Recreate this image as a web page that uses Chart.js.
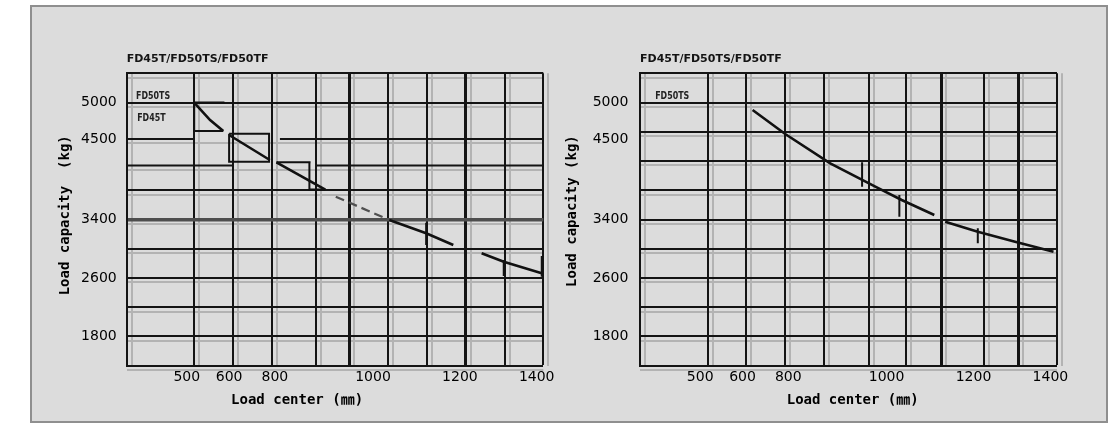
<!DOCTYPE html>
<html><head><meta charset="utf-8">
<script src="https://cdn.jsdelivr.net/npm/chart.js@4.4.1/dist/chart.umd.min.js"></script>
<style>
html,body{margin:0;padding:0;background:#fff;width:1117px;height:423px;overflow:hidden;}
#frame{position:absolute;left:30px;top:5px;width:1074px;height:414px;border:2px solid #8f8f8f;background:#dcdcdc;}
canvas{position:absolute;}
#cl{left:30px;top:10px;width:530px;height:410px;}
#cr{left:560px;top:10px;width:530px;height:410px;}
</style></head><body>
<div id="frame"></div>
<canvas id="cl" width="530" height="410"></canvas>
<canvas id="cr" width="530" height="410"></canvas>
<script>
// ---------- data ----------
const chartTitle = 'FD45T/FD50TS/FD50TF';
const xTickLabels = ['500', '600', '800', '1000', '1200', '1400'];
const xTickLabelAt = [481, 590, 708, 961, 1185, 1383];      // where each label sits (mm)
const yTickLabels = [1800, 2600, 3400, 4500, 5000];
const xMin = 326, xMax = 1400, yMin = 1400, yMax = 5400;

const leftGridX = [500, 600, 700, 814, 900, 1000, 1100, 1200, 1300, 1400];
const leftGridY = [1800, 2200, 2600, 3000, 3400, 3800, 5000, 5400];
// left chart: two horizontal rules that are broken where the boxes sit
const leftRuleX = [326, 502, null, 721, 1400, null, 326, 600, null, 816, 1400];
const leftRuleY = [4500, 4500, null, 4500, 4500, null, 4140, 4140, null, 4140, 4140];
const rightGridX = [500, 600, 700, 800, 915, 1011, 1102, 1213, 1300, 1400];
const rightGridY = [1800, 2200, 2600, 3000, 3400, 3800, 4200, 4600, 5000, 5400];

// left chart: capacity curve pieces (null = break)
const leftCurveX = [500, 541, 575, null, 590, 695, null, 712, 838, null, 1003, 1098, 1168, null, 1241, 1298, 1396];
const leftCurveY = [5000, 4760, 4611, null, 4556, 4214, null, 4182, 3810, null, 3393, 3211, 3051, null, 2938, 2823, 2664];
const leftDashX = [865, 1003];
const leftDashY = [3712, 3393];
const leftMarkX = [578, 500, 500, 575, null, 590, 693, 693, 590, 590, null, 712, 800, null, 797, 797, 838, null, 1098, 1098, null, 1298, 1298, null, 1396, 1396];
const leftMarkY = [5000, 5000, 4611, 4611, null, 4574, 4574, 4191, 4191, 4574, null, 4182, 4182, null, 4186, 3810, 3810, null, 3356, 3051, null, 2846, 2627, null, 2900, 2617];

// right chart
const rightCurveX = [616, 700, 816, 932, 1000, 1084, null, 1112, 1196, 1292, 1391];
const rightCurveY = [4898, 4570, 4169, 3849, 3667, 3462, null, 3370, 3233, 3096, 2960];
const rightMarkX = [898, 898, null, 994, 994, null, 1196, 1196];
const rightMarkY = [4182, 3849, null, 3735, 3438, null, 3280, 3074];

// ---------- drawing ----------
const DARK = '#141414';
const innerLabels = {
  id: 'innerLabels',
  afterDatasetsDraw(chart, args, opts) {
    const {ctx} = chart; const xs = chart.scales.x, ys = chart.scales.y;
    ctx.save();
    ctx.fillStyle = '#222';
    ctx.font = 'bold 11px "DejaVu Sans", sans-serif';
    ctx.textBaseline = 'middle'; ctx.textAlign = 'left';
    for (const it of (opts.items || [])) {
      ctx.save();
      ctx.translate(xs.getPixelForValue(it.x), ys.getPixelForValue(it.y));
      ctx.scale(0.72, 1);
      ctx.fillText(it.text, 0, 0);
      ctx.restore();
    }
    ctx.restore();
  }
};

function buildChart(id, c) {
  const toPts = (X, Y) => X.map((v, i) => ({x: v, y: Y[i]}));
  const xTicks = [...new Set([...c.gridX, ...xTickLabelAt])].sort((a, b) => a - b);
  const yTicks = [...new Set([...c.gridY, ...yTickLabels])].sort((a, b) => a - b);
  const ruleLevels = c.ruleY ? [...new Set(c.ruleY.filter(v => v !== null))] : [];
  const ghostX = [xMin, ...c.gridX].map(v => v + 13);
  const ghostY = [yMin, ...c.gridY, ...ruleLevels].map(v => v - 60);
  const sets = [
    {data: toPts(c.curveX, c.curveY), borderColor: '#111', borderWidth: 2.6},
    {data: toPts(c.markX, c.markY), borderColor: '#111', borderWidth: 2}
  ];
  if (c.dashX) sets.push({data: toPts(c.dashX, c.dashY), borderColor: '#505050', borderWidth: 2.2, borderDash: [9, 5]});
  if (c.ruleX) sets.unshift({data: toPts(c.ruleX, c.ruleY), borderColor: DARK, borderWidth: 2});
  const tickFont = {family: '"DejaVu Sans", sans-serif', size: 14};
  const titleFont = {family: '"DejaVu Sans Mono", "Noto Sans CJK JP", monospace', size: 14, weight: 'bold'};
  new Chart(document.getElementById(id), {
    type: 'line',
    data: {datasets: sets.map(d => Object.assign({pointRadius: 0, fill: false, tension: 0, spanGaps: false, xAxisID: 'x', yAxisID: 'y'}, d))},
    options: {
      responsive: false, animation: false, events: [],
      layout: {padding: {left: c.padL, right: c.padR, top: 0, bottom: 5}},
      plugins: {
        legend: {display: false}, tooltip: {enabled: false},
        title: {display: true, text: chartTitle, align: 'start', fullSize: false, color: DARK,
          font: {family: '"DejaVu Sans", sans-serif', size: 11, weight: 'bold', lineHeight: 1.2},
          padding: {top: 42.4, bottom: 7.7}},
        innerLabels: {items: c.inner}
      },
      scales: {
        xg: {type: 'linear', min: xMin, max: xMax, position: 'bottom',
          afterBuildTicks: s => { s.ticks = ghostX.map(v => ({value: v})); },
          afterFit: s => { s.height = 0; },
          ticks: {display: false}, border: {display: false},
          grid: {drawTicks: false, color: '#b3b3b3', lineWidth: 2, z: -2}},
        yg: {type: 'linear', min: yMin, max: yMax, position: 'left',
          afterBuildTicks: s => { s.ticks = ghostY.map(v => ({value: v})); },
          afterFit: s => { s.width = 0; },
          ticks: {display: false}, border: {display: false},
          grid: {drawTicks: false, color: '#b3b3b3', lineWidth: 2, z: -2}},
        x: {type: 'linear', min: xMin, max: xMax, position: 'bottom',
          afterBuildTicks: s => { s.ticks = xTicks.map(v => ({value: v})); },
          afterFit: s => { s.height = 49.3; },
          ticks: {autoSkip: false, maxRotation: 0, minRotation: 0, padding: 3, color: '#000', font: tickFont,
            callback: v => { const i = xTickLabelAt.indexOf(v); return i < 0 ? '' : xTickLabels[i]; }},
          grid: {drawTicks: false,
            color: ctx => (ctx.tick && c.gridX.includes(ctx.tick.value)) ? DARK : 'rgba(0,0,0,0)',
            lineWidth: ctx => (ctx.tick && c.gridX.includes(ctx.tick.value)) ? (c.thickX.includes(ctx.tick.value) ? 3 : 2) : 0},
          border: {display: true, color: DARK, width: 2},
          title: {display: true, text: c.xTitle, color: '#000', font: titleFont, padding: {top: 0, bottom: 6}}},
        y: {type: 'linear', min: yMin, max: yMax, position: 'left',
          afterBuildTicks: s => { s.ticks = yTicks.map(v => ({value: v})); },
          afterFit: s => { s.width = c.yAxisWidth; },
          ticks: {padding: c.yTickPad, color: '#000', font: tickFont,
            callback: v => yTickLabels.includes(v) ? String(v) : ''},
          grid: {drawTicks: false,
            color: ctx => (ctx.tick && c.gridY.includes(ctx.tick.value)) ? (ctx.tick.value === c.grayY ? '#4e4e4e' : DARK) : 'rgba(0,0,0,0)',
            lineWidth: ctx => (ctx.tick && c.gridY.includes(ctx.tick.value)) ? (ctx.tick.value === c.grayY ? 3.5 : 2) : 0},
          border: {display: true, color: DARK, width: 2},
          title: {display: true, text: c.yTitle, color: '#000', font: titleFont, padding: {top: c.yTitlePad, bottom: 0}}}
      }
    },
    plugins: [innerLabels]
  });
}

buildChart('cl', {
  gridX: leftGridX, gridY: leftGridY, thickX: [900, 1200], grayY: 3400,
  ruleX: leftRuleX, ruleY: leftRuleY,
  curveX: leftCurveX, curveY: leftCurveY, dashX: leftDashX, dashY: leftDashY,
  markX: leftMarkX, markY: leftMarkY,
  padL: 10, padR: 16.7, yAxisWidth: 86.7, yTickPad: 10, yTitlePad: 16.6,
  xTitle: 'Load center (\u339C)         ', yTitle: ' Load capacity  (kg)',
  inner: [{text: 'FD50TS', x: 350, y: 5094}, {text: 'FD45T', x: 353, y: 4793}]
});
buildChart('cr', {
  gridX: rightGridX, gridY: rightGridY, thickX: [1102, 1300], grayY: null,
  curveX: rightCurveX, curveY: rightCurveY,
  markX: rightMarkX, markY: rightMarkY,
  padL: 0, padR: 33, yAxisWidth: 80, yTickPad: 11.7, yTitlePad: 4.1,
  xTitle: ' Load center (\u339C)', yTitle: '  Load capacity (kg)',
  inner: [{text: 'FD50TS', x: 365, y: 5094}]
});
</script>
</body></html>
